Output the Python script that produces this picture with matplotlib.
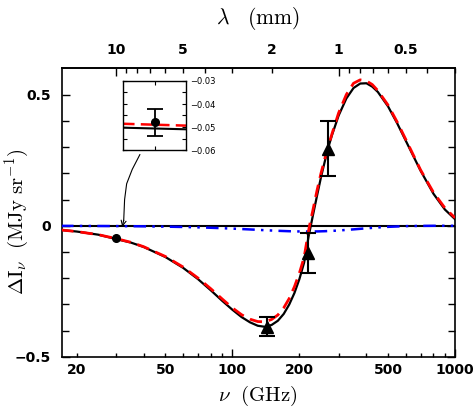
import matplotlib
matplotlib.use('Agg')
import matplotlib.pyplot as plt
from matplotlib.ticker import FixedLocator, FuncFormatter

plt.rcParams['mathtext.fontset'] = 'cm'
plt.rcParams['font.family'] = ['DejaVu Sans']

# ---- data ----
nu_black = [17, 20, 25, 30, 35, 40, 50, 60, 70, 80, 90, 100, 110, 120, 130, 140,
            150, 160, 170, 180, 190, 200, 210, 220, 225, 230, 240, 250, 260, 270,
            280, 300, 325, 350, 375, 400, 425, 450, 500, 550, 600, 700, 800, 900, 1000]
black = [-0.016, -0.022, -0.034, -0.0504, -0.064, -0.081, -0.119, -0.160, -0.203, -0.246,
         -0.286, -0.320, -0.348, -0.368, -0.381, -0.385, -0.378, -0.362, -0.336, -0.300,
         -0.256, -0.203, -0.140, -0.040, 0.0, 0.040, 0.115, 0.185, 0.245, 0.300,
         0.345, 0.420, 0.485, 0.525, 0.542, 0.543, 0.530, 0.510, 0.455, 0.390,
         0.325, 0.210, 0.122, 0.062, 0.025]

nu_red = [17, 20, 25, 30, 35, 40, 50, 60, 70, 80, 90, 100, 110, 120, 130, 140,
          150, 160, 170, 180, 190, 200, 210, 220, 222, 230, 240, 250, 260, 270,
          280, 300, 325, 350, 375, 400, 425, 450, 500, 550, 600, 700, 800, 900, 1000]
red = [-0.016, -0.022, -0.034, -0.0487, -0.063, -0.080, -0.117, -0.157, -0.199, -0.240,
       -0.279, -0.313, -0.339, -0.356, -0.365, -0.366, -0.357, -0.340, -0.313, -0.277,
       -0.232, -0.180, -0.120, -0.018, 0.0, 0.060, 0.135, 0.200, 0.255, 0.305,
       0.350, 0.430, 0.500, 0.543, 0.556, 0.552, 0.538, 0.515, 0.460, 0.395,
       0.330, 0.213, 0.127, 0.068, 0.030]

nu_blue = [17, 20, 30, 40, 50, 60, 70, 80, 90, 100, 120, 140, 160, 180, 200, 220,
           240, 260, 280, 300, 350, 400, 450, 500, 600, 700, 800, 1000]
blue = [-0.0004, -0.0006, -0.0012, -0.0021, -0.0033, -0.0046, -0.0060, -0.0076, -0.0092,
        -0.0109, -0.0140, -0.0169, -0.0192, -0.0208, -0.0217, -0.0220, -0.0216, -0.0207,
        -0.0195, -0.0180, -0.0137, -0.0097, -0.0064, -0.0041, -0.0014, -0.0005, -0.0001, 0.0]

tri_nu = [143, 218, 270]
tri_val = [-0.385, -0.104, 0.294]
tri_err = [0.036, 0.077, 0.105]

circ_nu = [30]
circ_val = [-0.048]
circ_err = [0.0058]

inset_nu = [29.9, 30.1]
inset_black = [-0.0503, -0.0510]
inset_red = [-0.0486, -0.0494]

arrow_nu = [38.4, 35.5, 33.5, 32.8, 32.5]
arrow_v = [0.271, 0.215, 0.160, 0.100, 0.021]
arrow_tip = (32.0, -0.004)

bottom_major = [100, 1000]
bottom_minor = [20, 30, 40, 50, 60, 70, 80, 90, 200, 300, 400, 500, 600, 700, 800, 900]
bottom_labels = [20, 50, 100, 200, 500, 1000]
top_major = [10, 1]
top_minor = [9, 8, 7, 6, 5, 4, 3, 2, 0.9, 0.8, 0.7, 0.6, 0.5, 0.4, 0.3]
top_labels = [10, 5, 2, 1, 0.5]

# ---- figure ----
fig = plt.figure(figsize=(4.74, 4.15), dpi=100)
ax = fig.add_axes([0.130, 0.1398, 0.830, 0.6956])
ax.set_xscale('log')
ax.set_xlim(17.1, 1000)
ax.set_ylim(-0.5, 0.6)

ax.axhline(0, color='black', lw=1.5, zorder=2)
ax.plot(nu_blue, blue, color='blue', lw=1.8, ls=(0, (5, 2.5, 1, 2.5, 1, 2.5)), zorder=3)
ax.plot(nu_black, black, color='black', lw=1.6, zorder=4)
ax.plot(nu_red, red, color='red', lw=2.0, ls=(0, (4.5, 2.5)), zorder=5)
ax.errorbar(tri_nu, tri_val, yerr=tri_err, fmt='^', color='black', ms=8,
            capsize=6, elinewidth=1.5, capthick=1.5, zorder=6)
ax.plot(circ_nu, circ_val, 'o', color='black', ms=5.5, zorder=6)

# arrow
ax.plot(arrow_nu, arrow_v, color='black', lw=0.8, zorder=6)
ax.annotate('', xy=arrow_tip, xytext=(arrow_nu[-1], arrow_v[-1]),
            arrowprops=dict(arrowstyle='->', lw=0.8, color='black',
                            shrinkA=0, shrinkB=0, mutation_scale=9), zorder=6)

def lab_fmt(labels):
    def f(v, pos):
        for l in labels:
            if abs(v - l) < 1e-6 * max(1, l):
                return ('%g' % l)
        return ''
    return FuncFormatter(f)

TF = dict(labelsize=10)
ax.xaxis.set_major_locator(FixedLocator(bottom_major))
ax.xaxis.set_minor_locator(FixedLocator(bottom_minor))
ax.xaxis.set_major_formatter(lab_fmt(bottom_labels))
ax.xaxis.set_minor_formatter(lab_fmt(bottom_labels))
ax.set_yticks([-0.5, 0, 0.5])
ax.set_yticklabels(['\u22120.5', '0', '0.5'])
ax.yaxis.set_minor_locator(FixedLocator([-0.4, -0.3, -0.2, -0.1, 0.1, 0.2, 0.3, 0.4]))
ax.tick_params(axis='x', which='major', direction='in', length=6, width=1, pad=4, top=False, **TF)
ax.tick_params(axis='x', which='minor', direction='in', length=3, width=1, pad=4, top=False, **TF)
ax.tick_params(axis='y', which='major', direction='in', length=6, width=1, pad=8, right=True, **TF)
ax.tick_params(axis='y', which='minor', direction='in', length=5, width=1, right=True)
for s in ax.spines.values():
    s.set_linewidth(1.2)

sec = ax.secondary_xaxis('top', functions=(lambda x: 299.79 / x, lambda x: 299.79 / x))
sec.xaxis.set_major_locator(FixedLocator(top_major))
sec.xaxis.set_minor_locator(FixedLocator(top_minor))
sec.xaxis.set_major_formatter(lab_fmt(top_labels))
sec.xaxis.set_minor_formatter(lab_fmt(top_labels))
sec.tick_params(axis='x', which='major', direction='in', length=6, width=1, pad=8, **TF)
sec.tick_params(axis='x', which='minor', direction='in', length=3.5, width=1, pad=8, **TF)
sec.spines['top'].set_linewidth(1.2)
sec.set_xlabel(r'$\lambda\ \ \ \mathrm{(mm)}$', fontsize=15.5, labelpad=14)

for lab in ax.get_xticklabels(which='both') + ax.get_yticklabels() + \
        sec.xaxis.get_ticklabels(which='both'):
    lab.set_fontweight('bold')

ax.set_xlabel(r'$\nu\ \ \mathrm{(GHz)}$', fontsize=15, labelpad=5)
ax.set_ylabel(r'$\Delta\mathrm{I}_\nu\ \ \mathrm{(MJy\ sr^{-1})}$', fontsize=15)
ax.yaxis.set_label_coords(-0.078, 0.47)

# inset
ins = fig.add_axes([123.3 / 474, 1 - 150 / 415, (186 - 123.3) / 474, 69 / 415])
ins.set_xlim(29.9, 30.1)
ins.set_ylim(-0.06, -0.03)
ins.plot(inset_nu, inset_black, color='black', lw=1.5)
ins.plot(inset_nu, inset_red, color='red', lw=1.8, ls=(0, (4.5, 2.5)))
ins.errorbar(circ_nu, circ_val, yerr=circ_err, fmt='o', color='black', ms=5.5,
             capsize=6, elinewidth=1.3, capthick=1.3)
ins.set_xticks([30])
ins.set_xticklabels([])
ins.set_yticks([-0.06, -0.05, -0.04, -0.03])
ins.set_yticklabels(['\u22120.06', '\u22120.05', '\u22120.04', '\u22120.03'])
ins.yaxis.set_minor_locator(FixedLocator([-0.055, -0.045, -0.035]))
ins.yaxis.tick_right()
ins.tick_params(axis='y', which='both', direction='in', length=3, width=0.8, left=True,
                right=True, labelsize=6, pad=3)
ins.tick_params(axis='x', which='both', direction='in', length=3, width=0.8, top=True)
for s in ins.spines.values():
    s.set_linewidth(1.0)

fig.savefig('out.png', dpi=100)
